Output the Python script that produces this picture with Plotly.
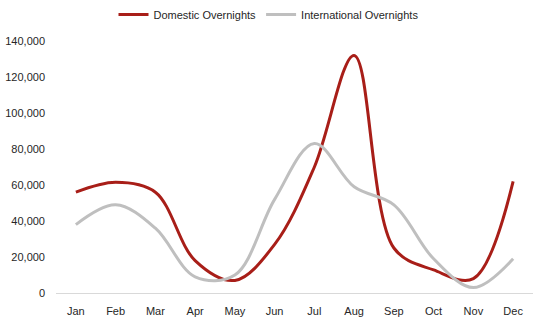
import plotly.graph_objects as go

months = ["Jan", "Feb", "Mar", "Apr", "May", "Jun", "Jul", "Aug", "Sep", "Oct", "Nov", "Dec"]
domestic = [56000, 61500, 56000, 18000, 7000, 27000, 70000, 132000, 25000, 12800, 8000, 62000]
international = [38000, 49000, 36000, 9000, 10000, 52000, 83000, 59000, 49000, 19000, 3000, 19000]

fig = go.Figure()
fig.add_trace(go.Scatter(x=months, y=domestic, name="Domestic Overnights", mode="lines",
                         line=dict(color="#A81E18", width=3, shape="spline", smoothing=1.0)))
fig.add_trace(go.Scatter(x=months, y=international, name="International Overnights", mode="lines",
                         line=dict(color="#BFBFBF", width=3, shape="spline", smoothing=1.0)))

fig.update_layout(
    width=537, height=322,
    margin=dict(l=56, r=4, t=41, b=29),
    paper_bgcolor="white", plot_bgcolor="white",
    font=dict(family="Liberation Sans", size=11, color="#262626"),
    legend=dict(orientation="h", x=0.5, xanchor="center", xref="container",
                y=1.0, yanchor="top", yref="container",
                font=dict(size=11, color="#262626"),
                itemwidth=30, tracegroupgap=0),
    xaxis=dict(range=[-0.5, 11.5], showgrid=False, showline=True, linecolor="#D9D9D9", linewidth=1,
               ticks="", ticklabelstandoff=8, tickfont=dict(size=11, color="#262626")),
    yaxis=dict(range=[0, 140000], dtick=20000, tickformat=",", showgrid=False,
               zeroline=False, showline=False, ticks="", ticklabelstandoff=10,
               tickfont=dict(size=11, color="#262626")),
    showlegend=True,
)

fig.write_html("out.html")
